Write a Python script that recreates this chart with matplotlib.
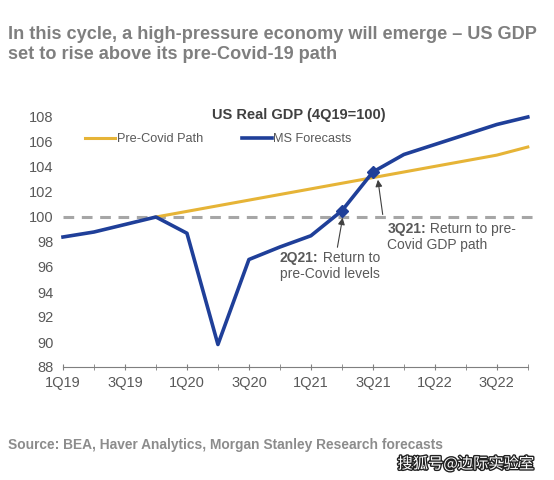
import matplotlib.pyplot as plt
import matplotlib.patheffects as pe

# US Real GDP (4Q19=100)
quarters = ['1Q19', '2Q19', '3Q19', '4Q19', '1Q20', '2Q20', '3Q20', '4Q20',
            '1Q21', '2Q21', '3Q21', '4Q21', '1Q22', '2Q22', '3Q22', '4Q22']
ms_forecast = [98.4, 98.8, 99.4, 100.0, 98.7, 89.8, 96.6, 97.6,
               98.5, 100.5, 103.6, 105.0, 105.8, 106.6, 107.4, 108.0]
pre_covid_idx = list(range(3, 16))
pre_covid = [100.0, 100.45, 100.9, 101.35, 101.8, 102.25, 102.7, 103.15,
             103.6, 104.05, 104.5, 104.95, 105.6]
baseline = 100
marked = [9, 10]

gray = '#7f7f7f'
txt = '#595959'
blue = '#1f3f99'
gold = '#e6b437'

plt.rcParams['font.family'] = ['Liberation Sans', 'DejaVu Sans']

fig = plt.figure(figsize=(5.54, 4.8), dpi=100)
ax = fig.add_axes([63 / 554, 113 / 480, 471 / 554, 250 / 480])

x = list(range(len(quarters)))
ax.axhline(baseline, color='#a6a6a6', lw=2.2, ls=(0, (3.5, 2.5)), zorder=1)
ax.plot(pre_covid_idx, pre_covid, color=gold, lw=2.2, label='Pre-Covid Path', zorder=2)
ax.plot(x, ms_forecast, color=blue, lw=2.6, label='MS Forecasts', zorder=3, clip_on=False)
ax.plot(marked, [ms_forecast[i] for i in marked], ls='none', marker='D',
        ms=6, color=blue, zorder=4)

ax.set_xlim(0, 15.2)
ax.set_ylim(88, 108)
ax.set_yticks(range(88, 109, 2))
ax.set_xticks(x[::2])
ax.set_xticklabels(quarters[::2])
ax.set_xticks(x, minor=True)
ax.tick_params(axis='y', length=0, pad=7, labelsize=10.5, labelcolor=txt)
ax.tick_params(axis='x', which='both', direction='inout', length=5, color=gray,
               labelsize=10.5, labelcolor=txt, pad=4)
for s in ['top', 'right', 'left']:
    ax.spines[s].set_visible(False)
ax.spines['bottom'].set_color(gray)
ax.spines['bottom'].set_bounds(0, 15)

leg = ax.legend(loc='upper left', bbox_to_anchor=(85 / 554, 1 - 133 / 480),
                bbox_transform=fig.transFigure, ncol=2, frameon=False,
                fontsize=9.2, handlelength=2.35, handletextpad=0.15, columnspacing=3.0,
                borderpad=0, borderaxespad=0)
for t in leg.get_texts():
    t.set_color(txt)

ax.text(0.5, 108.15, 'US Real GDP (4Q19=100)', ha='center', va='center',
        transform=ax.get_yaxis_transform(), fontsize=10.5, fontweight='bold', color='#404040')


def callout(xt, y1, y2, tag, rest, line2):
    # bold tag, then the plain text right after it
    b = ax.text(xt, y1, tag, fontsize=10, fontweight='bold', color=txt, va='center')
    ax.annotate(' ' + rest, xy=(1, 0.5), xycoords=b, va='center', fontsize=10, color=txt)
    ax.text(xt, y2, line2, fontsize=10, color=txt, va='center')


ax.annotate('', xy=(9.04, 100.16), xytext=(8.84, 97.36),
            arrowprops=dict(arrowstyle='-|>', color='#404040', lw=0.8, mutation_scale=10))
callout(7.0, 96.7, 95.4, '2Q21:', 'Return to', 'pre-Covid levels')
ax.annotate('', xy=(10.15, 103.2), xytext=(10.33, 99.98),
            arrowprops=dict(arrowstyle='-|>', color='#404040', lw=0.8, mutation_scale=10))
callout(10.47, 99.0, 97.76, '3Q21:', 'Return to pre-', 'Covid GDP path')

fig.text(8 / 554, 1 - 26 / 480, 'In this cycle, a high-pressure economy will emerge \u2013 US GDP\n'
         'set to rise above its pre-Covid-19 path', fontsize=13.1, fontweight='bold',
         color=gray, va='top', linespacing=1.2)
fig.text(8 / 554, 1 - 445 / 480, 'Source: BEA, Haver Analytics, Morgan Stanley Research forecasts',
         fontsize=9.9, fontweight='bold', color='#8c8c8c', va='center')
fig.text(534 / 554, 1 - 464 / 480, '搜狐号@边际实验室', fontsize=11, color='white',
         ha='right', va='center', family=['Noto Sans CJK SC', 'DejaVu Sans'],
         path_effects=[pe.withStroke(linewidth=2, foreground='#222222')])

fig.savefig('out.png', dpi=100)
